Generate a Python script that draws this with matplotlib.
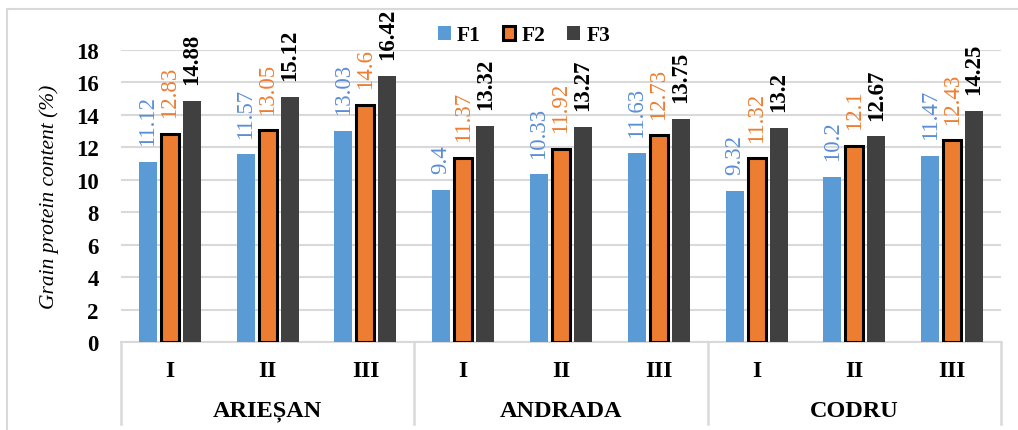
import numpy as np
import matplotlib
matplotlib.use("Agg")
import matplotlib.pyplot as plt
from matplotlib.patches import Rectangle
import matplotlib.transforms as mtransforms

plt.rcParams['font.family'] = ['Liberation Serif', 'DejaVu Serif']

# data
varieties = ["ARIEȘAN", "ANDRADA", "CODRU"]
periods = ["I", "II", "III"]
series_names = ["F1", "F2", "F3"]
f1 = [11.12, 11.57, 13.03, 9.4, 10.33, 11.63, 9.32, 10.2, 11.47]
f2 = [12.83, 13.05, 14.6, 11.37, 11.92, 12.73, 11.32, 12.1, 12.43]
f3 = [14.88, 15.12, 16.42, 13.32, 13.27, 13.75, 13.2, 12.67, 14.25]

bar_colors = ["#5B9BD5", "#ED7D31", "#404040"]
label_colors = ["#5B8ED6", "#ED7D31", "#000000"]
label_weights = ["normal", "normal", "bold"]
grid_color = "#D9D9D9"

W, H = 1018, 431
fig = plt.figure(figsize=(W / 100, H / 100), dpi=100)
ax = fig.add_axes([121 / W, (H - 343) / H, 880 / W, 292 / H])

x = np.arange(len(varieties) * len(periods))
width = 0.185
step = 0.225

for i, vals in enumerate([f1, f2, f3]):
    edge = dict(edgecolor="black", linewidth=2.2) if i == 1 else dict(linewidth=0)
    bars = ax.bar(x + (i - 1) * step, vals, width, color=bar_colors[i],
                  label=series_names[i], zorder=3, **edge)
    ax.bar_label(bars, fmt="{:g}", rotation=90, padding=12, fontsize=16.5,
                 color=label_colors[i], fontweight=label_weights[i], clip_on=False)

ax.set_xlim(-0.5, len(x) - 0.5)
ax.set_ylim(0, 18)
ax.set_yticks(np.arange(0, 19, 2))
ax.tick_params(axis="y", length=0, labelsize=16.5, pad=16)
for t in ax.get_yticklabels():
    t.set_fontweight("bold")
ax.yaxis.grid(True, color=grid_color, linewidth=1.5, zorder=0)
ax.set_axisbelow(True)

ax.set_xticks(x)
ax.set_xticklabels(periods * len(varieties), fontsize=17, fontweight="bold")
ax.tick_params(axis="x", length=0, pad=13)

for s in ["top", "right", "left"]:
    ax.spines[s].set_visible(False)
ax.spines["bottom"].set_color(grid_color)
ax.spines["bottom"].set_linewidth(1.5)

# group separators and group names below the axis
trans = mtransforms.blended_transform_factory(ax.transData, ax.transAxes)
for b in [-0.5, 2.5, 5.5, 8.5]:
    ax.plot([b, b], [0, -0.281], color=grid_color, linewidth=1.8,
            transform=trans, clip_on=False)
for g, name in enumerate(varieties):
    ax.text(g * 3 + 1, -0.236, name, transform=trans, ha="center", va="center",
            fontsize=17.5, fontweight="bold")

ax.set_ylabel("Grain protein content (%)", fontsize=15.5, style="italic", labelpad=12)

leg = ax.legend(loc="center", bbox_to_anchor=(0.458, 1.05), ncol=3, frameon=False,
                handlelength=0.6, handleheight=0.6, handletextpad=0.3,
                columnspacing=1.0, prop=dict(size=15.5, weight="bold"))

# outer chart frame
fig.add_artist(Rectangle((7 / W, -0.05), 1.2, (H - 10) / H + 0.05, transform=fig.transFigure,
                         fill=False, edgecolor=grid_color, linewidth=1.5))

fig.savefig("out.png", dpi=100)
